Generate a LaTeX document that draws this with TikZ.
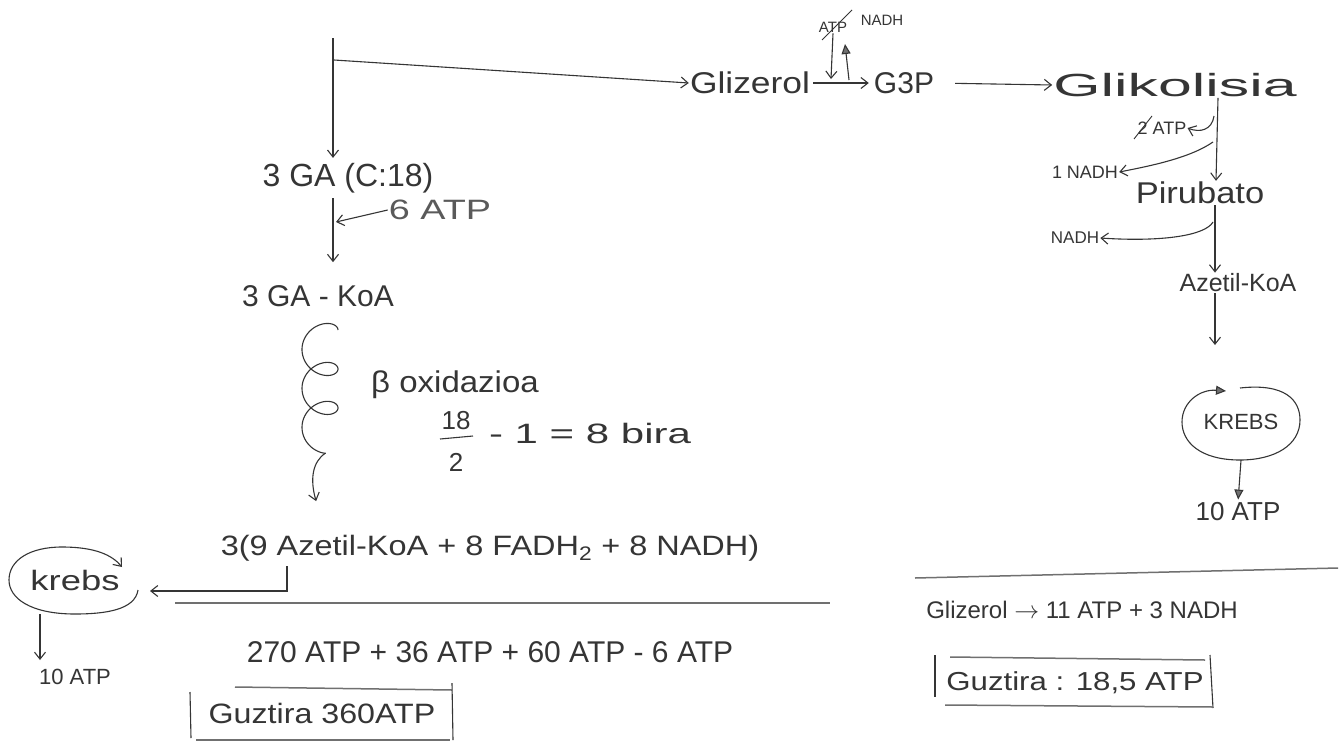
\documentclass[tikz,border=0pt]{standalone}
\usepackage{fontspec}
\usepackage{graphicx}
\setmainfont{Liberation Sans}
\usetikzlibrary{arrows.meta,shapes.geometric}
\definecolor{ink}{HTML}{353535}
\definecolor{pencil}{HTML}{707070}
\definecolor{faint}{HTML}{5A5A5A}
\newcommand{\hx}[2]{\scalebox{#1}[1]{#2}}
\newcommand{\fs}[1]{\fontsize{#1}{#1}\selectfont}
\tikzset{
  lbl/.style={text=ink, inner sep=1pt},
  flow/.style={draw=ink, line width=1.1pt, -{Straight Barb[length=7pt,width=11pt]}},
  flowt/.style={draw=ink, line width=1.1pt, -{Triangle[length=10pt,width=9pt,fill=pencil]}},
  rulel/.style={draw=pencil, line width=1.5pt},
  loopl/.style={draw=ink, line width=1.1pt},
  hidden/.style={ellipse, inner sep=0pt}
}
\begin{document}
\begin{tikzpicture}[x=1pt,y=-1pt]
\useasboundingbox (0,0) rectangle (1342,745);
\fill[white] (0,0) rectangle (1342,745);

% ---------- nodes ----------
\node[lbl, font=\fs{30}] (glz) at (750,83) {\hx{1.18}{Glizerol}};
\node[lbl, font=\fs{30}] (g3p) at (904,83) {G3P};
\node[lbl, font=\fs{32}] (glk) at (1175,85) {\hx{1.9}{Glikolisia}};
\node[lbl, font=\fs{15}] (tatp) at (833,27) {ATP};
\node[lbl, font=\fs{15}] (tnadh) at (882,20) {NADH};

\node[lbl, font=\fs{18}] (atp2) at (1162,128) {2 ATP};
\node[lbl, font=\fs{18}] (nadh1) at (1085,172) {1 NADH};
\node[lbl, font=\fs{30}] (pir) at (1200,193) {\hx{1.15}{Pirubato}};
\node[lbl, font=\fs{17}] (nadh2) at (1075,238) {NADH};
\node[lbl, font=\fs{25}] (aze) at (1238,283) {Azetil-KoA};
\node[hidden, lbl, font=\fs{22}, minimum width=118pt, minimum height=76pt] (krR) at (1241,422) {KREBS};
\node[lbl, font=\fs{26}] (atp10R) at (1238,512) {10 ATP};

\node[lbl, font=\fs{32}] (ga) at (348,178) {3 GA (C:18)};
\node[lbl, font=\fs{28}, text=faint] (atp6) at (440,210) {\hx{1.35}{6 ATP}};
\node[lbl, font=\fs{30}] (gakoa) at (318,296) {3 GA - KoA};
\node[lbl, font=\fs{30}] (box) at (455,385) {\hx{1.1}{β oxidazioa}};
\node[lbl, font=\fs{26}] (n18) at (456,421) {18};
\node[lbl, font=\fs{26}] (n2) at (456,462) {2};
\node[lbl, font=\fs{28}] (bira) at (590,433) {\hx{1.5}{- 1 = 8 bira}};
\node[lbl, font=\fs{28}] (sum) at (490,548) {\hx{1.16}{3(9 Azetil-KoA + 8 FADH\textsubscript{2} + 8 NADH)}};
\node[hidden, lbl, font=\fs{28}, minimum width=134pt, minimum height=68pt] (krL) at (75,580) {\hx{1.3}{krebs}};
\node[lbl, font=\fs{22}] (atp10L) at (75,677) {10 ATP};
\node[lbl, font=\fs{30}] (tot) at (490,652) {270 ATP + 36 ATP + 60 ATP - 6 ATP};
\node[lbl, font=\fs{28}] (gz1) at (322,713) {\hx{1.15}{Guztira 360ATP}};

\node[lbl, font=\fs{24}] (rsum) at (1082,610) {Glizerol $\to$ 11 ATP + 3 NADH};
\node[lbl, font=\fs{26}] (gz2) at (1075,683) {\hx{1.2}{Guztira : 18,5 ATP}};

% ---------- top row connectors ----------
\coordinate (top) at (333,38);
\coordinate (br) at (334,60);
\coordinate (j1) at (831,79);
\coordinate (j2) at (849,80);
\coordinate (j3) at (845,44);

\draw[flow, shorten >=4pt] (top) -- (top |- ga.north);
\draw[flow] (br) -- (glz.west);
\draw[flow, shorten <=2pt, shorten >=4pt] (glz.east) -- (g3p.west);
\draw[flow] (tatp.south) -- (j1);
\draw[flowt] (j2) -- (j3);
\draw[ink, line width=0.9pt] (822,40) -- (852,10);
\draw[flow, shorten <=20pt] (g3p.east) -- (glk.west);

% ---------- right column ----------
\draw[ink, line width=0.9pt] (1134,139) -- (1152,116);

\coordinate (p1) at (1214,116);
\coordinate (p2) at (1213,142);
\coordinate (p3) at (1213,222);
\coordinate (kin) at (1215,345);

\draw[flow] ([xshift=43pt]glk.south) -- ([xshift=16pt]pir.north);
\draw[flow] (p1) .. controls (1212,130) and (1200,133) .. (atp2.east);
\draw[flow] (p2) .. controls (1190,158) and (1150,166) .. (nadh1.east);
\draw[flow] ([xshift=15pt]pir.south) -- ([xshift=-23pt]aze.north);
\draw[flow] (p3) .. controls (1205,236) and (1160,242) .. (nadh2.east);
\draw[flow] ([xshift=-23pt]aze.south) -- (kin);
\draw[loopl, -{Triangle[length=10pt,width=9pt,fill=pencil]}]
  (1240,388) .. controls (1285,383) and (1300,400) .. (1300,420)
  .. controls (1300,445) and (1275,460) .. (1240,460)
  .. controls (1200,460) and (1182,442) .. (1182,422)
  .. controls (1182,402) and (1200,389) .. (1226,391);
\draw[flowt, shorten >=2pt] (krR.south) -- (atp10R.north);

% ---------- left column ----------
\draw[ink, line width=1.1pt] (440,439) -- (473,436);

\coordinate (m6) at (336,222);
\coordinate (c2) at (325.6,453);
\coordinate (s1) at (287,566);
\coordinate (kle) at (150,591);

\draw[flow, shorten <=4pt, shorten >=22pt] (ga.south -| top) -- (gakoa.north -| top);
\draw[flow] (atp6.west) -- (m6);
% beta-oxidation spiral
\draw[loopl, line join=round] plot[domain=0:17.59, samples=160, smooth, variable=\t]
  ({320+18*cos(\t r)}, {330+6.2*\t-15*sin(\t r)});
\draw[flow, shorten >=34pt] (c2) .. controls (312,462) and (310,480) .. (c2 |- sum.north);
\draw[flow] (s1) |- (kle);
\draw[loopl, -{Straight Barb[length=7pt,width=11pt]}]
  (138,590) .. controls (135,610) and (105,614) .. (75,614)
  .. controls (30,614) and (9,598) .. (9,580)
  .. controls (9,560) and (30,547) .. (62,547)
  .. controls (95,547) and (112,555) .. (122,567);
\draw[flow, shorten >=8pt] ([xshift=-35pt]krL.south) -- ([xshift=-35pt]atp10L.north);

% ---------- rules and boxes ----------
\draw[rulel] (175,603) -- (830,603);
\draw[rulel] (915,578) -- (1338,568);

\draw[loopl] (190,692) -- (191,738);
\draw[rulel] (235,687) -- (452,690);
\draw[rulel] (196,740) -- (450,740);
\draw[loopl] (452,683) -- (453,740);

\draw[loopl] (935,655) -- (935,697);
\draw[rulel] (950,657) -- (1205,660);
\draw[loopl] (1210,655) -- (1213,708);
\draw[rulel] (945,705) -- (1213,707);
\end{tikzpicture}
\end{document}
